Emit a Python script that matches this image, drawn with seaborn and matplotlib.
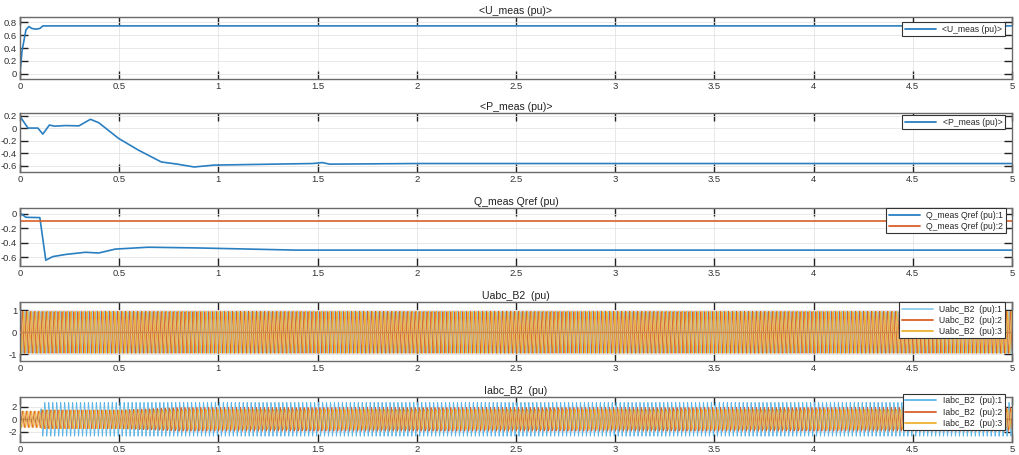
import numpy as np
import pandas as pd
import matplotlib
matplotlib.use("Agg")
import matplotlib.pyplot as plt
from matplotlib.ticker import FuncFormatter
import seaborn as sns

# ---------------- data ----------------
t_U = [0, 0.01, 0.03, 0.045, 0.06, 0.08, 0.10, 0.115, 0.5, 1, 2, 3, 4, 5]
U_meas = [0, 0.35, 0.68, 0.73, 0.70, 0.69, 0.70, 0.74, 0.74, 0.74, 0.74, 0.74, 0.74, 0.74]

t_P = [0, 0.007, 0.04, 0.09, 0.115, 0.148, 0.175, 0.23, 0.297, 0.355, 0.397,
       0.497, 0.596, 0.712, 0.795, 0.878, 0.978, 1.476, 1.525, 1.56, 2, 3, 4, 5]
P_meas = [0.15, 0.155, 0.0, 0.0, -0.096, 0.048, 0.03, 0.04, 0.035, 0.14, 0.085,
          -0.165, -0.35, -0.54, -0.576, -0.62, -0.59, -0.565, -0.55, -0.575, -0.565, -0.565, -0.565, -0.565]

t_Q = [0, 0.007, 0.03, 0.10, 0.13, 0.165, 0.23, 0.33, 0.397, 0.48, 0.646, 0.895, 1.39, 2, 3, 4, 5]
Q_meas = [0, 0.0, -0.046, -0.05, -0.64, -0.59, -0.56, -0.53, -0.54, -0.486, -0.46, -0.47, -0.5, -0.5, -0.5, -0.5, -0.5]
t_Qref = [0, 5]
Q_ref = [-0.1, -0.1]

# three-phase quantities: grid frequency, phase angles and read peak envelopes
f_grid = 50.0
fs = 2000
phase_deg = [0, -120, 120]
env_t = [0, 0.1, 0.11, 0.5, 0.8, 5]
U_amp = [[0.95] * 6, [0.95] * 6, [0.95] * 6]
I_amp = [[0.4, 0.4, 2.7, 2.7, 2.7, 2.7],
         [1.3, 1.3, 1.5, 1.5, 1.9, 1.9],
         [1.3, 1.3, 1.5, 1.5, 1.6, 1.6]]

titles = ["<U_meas (pu)>", "<P_meas (pu)>", "Q_meas Qref (pu)", "Uabc_B2  (pu)", "Iabc_B2  (pu)"]
xticks = [0, 0.5, 1, 1.5, 2, 2.5, 3, 3.5, 4, 4.5, 5]
yticks = [[0, 0.2, 0.4, 0.6, 0.8], [-0.6, -0.4, -0.2, 0, 0.2], [-0.6, -0.4, -0.2, 0], [-1, 0, 1], [-2, 0, 2]]
ylims = [(-0.077, 0.877), (-0.70, 0.24), (-0.72, 0.083), (-1.30, 1.38), (-3.62, 3.56)]

# ---------------- style ----------------
sns.set_theme(style="white")
plt.rcParams["font.family"] = ["Liberation Sans", "DejaVu Sans"]
plt.rcParams["axes.unicode_minus"] = False

BLUE = "#2a7fc1"
LBLUE = "#8ccbec"
ORANGE = "#d9602a"
YELLOW = "#edb232"

W, H = 1020, 455
fig = plt.figure(figsize=(W / 100, H / 100), dpi=100)
boxes = [(17, 79), (113, 172), (208, 266), (302, 361), (397, 442)]
axes = []
for top, bot in boxes:
    axes.append(fig.add_axes([20 / W, 1 - bot / H, 992 / W, (bot - top) / H]))

def build_frame(times, values, name):
    return pd.DataFrame({"t": times, "v": values, "s": name})

# U
sns.lineplot(data=build_frame(t_U, U_meas, "<U_meas (pu)>"), x="t", y="v", hue="s",
             palette=[BLUE], ax=axes[0], estimator=None, sort=False, lw=1.2)
# P
sns.lineplot(data=build_frame(t_P, P_meas, "<P_meas (pu)>"), x="t", y="v", hue="s",
             palette=[BLUE], ax=axes[1], estimator=None, sort=False, lw=1.2)
# Q
dfq = pd.concat([build_frame(t_Q, Q_meas, "Q_meas Qref (pu):1"),
                 build_frame(t_Qref, Q_ref, "Q_meas Qref (pu):2")])
sns.lineplot(data=dfq, x="t", y="v", hue="s", palette=[BLUE, ORANGE], ax=axes[2],
             estimator=None, sort=False, lw=1.2)

# three-phase
tt = np.arange(0, 5 + 1 / fs, 1 / fs)
def three_phase(amps, prefix):
    frames = []
    for k in range(3):
        env = np.interp(tt, env_t, amps[k])
        y = env * np.sin(2 * np.pi * f_grid * tt + np.deg2rad(phase_deg[k]))
        frames.append(pd.DataFrame({"t": tt, "v": y, "s": f"{prefix}  (pu):{k + 1}"}))
    return pd.concat(frames)

axes[3].axhline(0, color="#c9874f", lw=1.0, zorder=3)
sns.lineplot(data=three_phase(U_amp, "Uabc_B2"), x="t", y="v", hue="s",
             palette=[LBLUE, ORANGE, YELLOW], ax=axes[3], estimator=None, sort=False, lw=0.65)
sns.lineplot(data=three_phase(I_amp, "Iabc_B2"), x="t", y="v", hue="s",
             palette=["#5fb6e6", ORANGE, YELLOW], ax=axes[4], estimator=None, sort=False, lw=0.6)

leg_anchor = [(0.993, 0.919), (0.993, 0.966), (0.994, 1.0), (0.993, 1.0), (0.993, 1.07)]
fmt = FuncFormatter(lambda v, p: "%g" % v)
for i, ax in enumerate(axes):
    ax.set_xlim(0, 5)
    ax.set_ylim(*ylims[i])
    ax.set_xticks(xticks)
    ax.set_yticks(yticks[i])
    ax.xaxis.set_major_formatter(fmt)
    ax.yaxis.set_major_formatter(fmt)
    ax.set_xlabel("")
    ax.set_ylabel("")
    ax.grid(True, color="#e4e4e4", lw=0.6)
    ax.set_axisbelow(True)
    ax.tick_params(axis="both", which="major", direction="in", length=6, width=1.0,
                   color="#222222", labelsize=6.8, labelcolor="#333333", pad=2,
                   top=True, right=True, bottom=True, left=True)
    for sp in ax.spines.values():
        sp.set_color("#6a6a6a")
        sp.set_linewidth(1.0)
    ax.set_title(titles[i], fontsize=7.6, color="#222222", pad=2.5)
    leg = ax.legend(loc="upper right", bbox_to_anchor=leg_anchor[i], fontsize=6.2,
                    handlelength=3.6, borderpad=0.3, labelspacing=0.25, handletextpad=0.8,
                    borderaxespad=0, frameon=True, fancybox=False, framealpha=1,
                    edgecolor="#333333", title=None)
    leg.get_frame().set_linewidth(0.8)
    for line in leg.get_lines():
        line.set_linewidth(1.3)

fig.savefig("out.png", dpi=100)
